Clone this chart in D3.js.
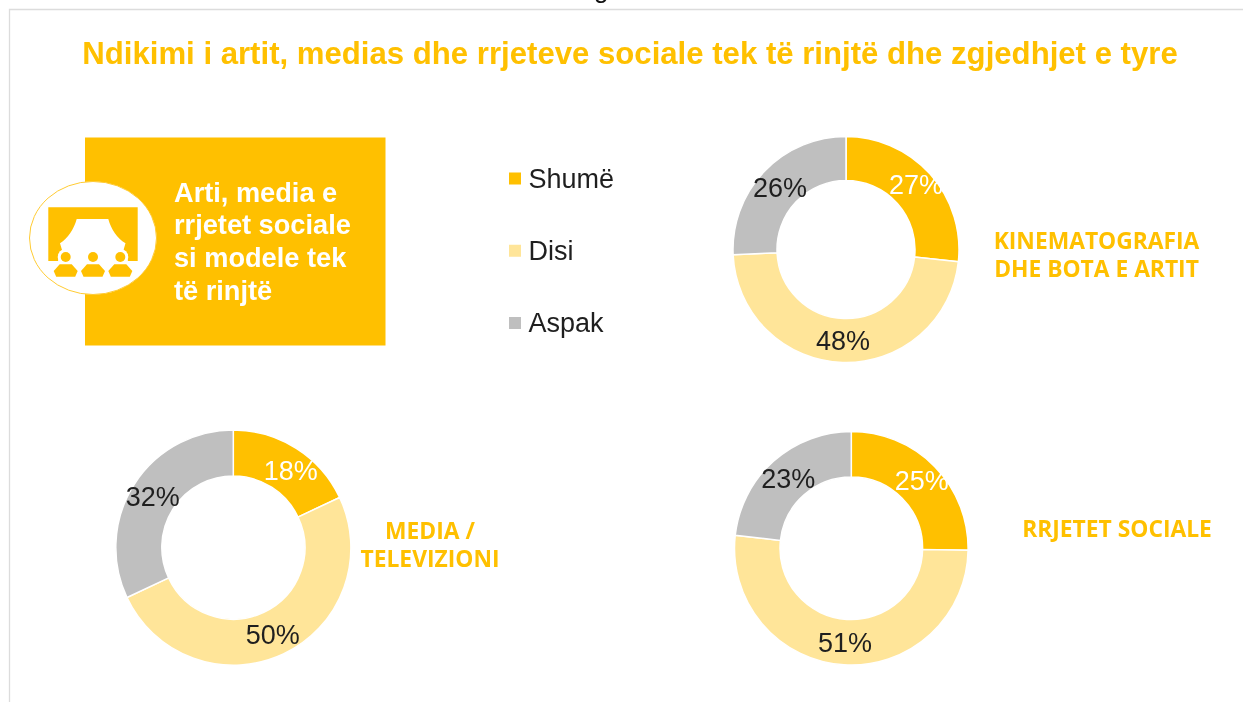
<!DOCTYPE html>
<head>
  <meta charset="utf-8">
  <script src="https://d3js.org/d3.v7.min.js"></script>
  <style>
    body { margin:0;position:fixed;top:0;right:0;bottom:0;left:0;background:#fff; }
    svg { display:block;filter:blur(0.4px); }
    text { font-family:"Liberation Sans",Arial,sans-serif; }
    .side { font-family:"Open Sans",sans-serif;font-weight:700;font-size:22.8px;fill:#ffc000; }
  </style>
</head>

<body>
  <script>
    var width = 1243,
        height = 702;

    // data
    var categories = ["Shumë", "Disi", "Aspak"];
    var kinemaValues = [27, 48, 26];
    var mediaValues = [18, 50, 32];
    var rrjeteValues = [25, 51, 23];
    var titleText = "Ndikimi i artit, medias dhe rrjeteve sociale tek të rinjtë dhe zgjedhjet e tyre";
    var boxLines = ["Arti, media e", "rrjetet sociale", "si modele tek", "të rinjtë"];

    var color = d3.scaleOrdinal()
      .domain(categories)
      .range(["#ffc000", "#ffe599", "#bfbfbf"]);

    // placement of the three rings, and of the labels relative to the ring centre
    var rings = [
      { values: kinemaValues, cx: 846, cy: 249.5, r: 113, r0: 69,
        labels: [[70, -65], [-3, 91], [-66, -62.5]],
        name: ["KINEMATOGRAFIA", "DHE BOTA E ARTIT"], nameX: 1096.5, nameY: 249 },
      { values: mediaValues, cx: 233.3, cy: 547.5, r: 117.5, r0: 71.5,
        labels: [[57.5, -77], [39.5, 86.5], [-80.5, -51]],
        name: ["MEDIA /", "TELEVIZIONI"], nameX: 430, nameY: 539 },
      { values: rrjeteValues, cx: 851.3, cy: 548.3, r: 116.8, r0: 71.3,
        labels: [[70.5, -68], [-6.3, 93.5], [-63, -70.5]],
        name: ["RRJETET SOCIALE"], nameX: 1117, nameY: 536.5 }
    ];

    var svg = d3.select("body")
      .append("svg")
      .attr("width", width)
      .attr("height", height);

    // page frame and the cut off caption above it
    svg.append("path")
      .attr("d", "M9.5,702V9.5H1243")
      .attr("fill", "none")
      .attr("stroke", "#dcdcdc")
      .attr("stroke-width", 1.3);

    svg.append("text")
      .attr("x", 594)
      .attr("y", -2.5)
      .attr("font-size", 26)
      .attr("fill", "#111")
      .text("g");

    svg.append("text")
      .attr("x", 630)
      .attr("y", 64)
      .attr("text-anchor", "middle")
      .attr("font-size", 31.15)
      .attr("font-weight", 700)
      .attr("fill", "#ffc000")
      .text(titleText);

    // left panel
    svg.append("rect")
      .attr("x", 85)
      .attr("y", 137.5)
      .attr("width", 300.5)
      .attr("height", 208)
      .attr("fill", "#ffc000");

    svg.append("ellipse")
      .attr("cx", 93)
      .attr("cy", 238)
      .attr("rx", 63.5)
      .attr("ry", 56.5)
      .attr("fill", "#fff")
      .attr("stroke", "#ffcb33")
      .attr("stroke-width", 1);

    var icon = svg.append("g")
      .attr("fill", "#ffc000");

    // stage and curtains
    icon.append("path")
      .attr("d", "M48.3,207.3H137.7V261H128L123.5,250L125.5,243.3C117,238 111,229 108.3,219H76.7C74,229 68,238 60,243.3L62,250L58,261H48.3Z");

    // the three spectators
    [65.7, 93, 120.3].forEach(function(x) {
      icon.append("circle")
        .attr("cx", x)
        .attr("cy", 257)
        .attr("r", 8)
        .attr("fill", "#fff");
      icon.append("circle")
        .attr("cx", x)
        .attr("cy", 257)
        .attr("r", 5);
      icon.append("path")
        .attr("d", "M" + (x - 6) + ",264.3H" + (x + 6) + "L" + (x + 12) + ",271L" + (x + 9.5) + ",276.7H" + (x - 9.5) + "L" + (x - 12) + ",271Z");
    });

    svg.append("g")
      .selectAll("text")
      .data(boxLines)
      .enter()
      .append("text")
      .attr("x", 174)
      .attr("y", function(d, i) { return 201.7 + i * 32.7; })
      .attr("font-size", 27.2)
      .attr("font-weight", 700)
      .attr("fill", "#fff")
      .text(function(d) { return d; });

    // legend
    var legendY = d3.scalePoint()
      .domain(categories)
      .range([178.5, 323]);

    var legend = svg.append("g")
      .selectAll("g")
      .data(categories)
      .enter()
      .append("g")
      .attr("transform", function(d) { return "translate(0," + legendY(d) + ")"; });

    legend.append("rect")
      .attr("x", 509)
      .attr("y", -6)
      .attr("width", 12)
      .attr("height", 12)
      .attr("fill", function(d) { return color(d); });

    legend.append("text")
      .attr("x", 528.5)
      .attr("y", 9)
      .attr("font-size", 27)
      .attr("fill", "#1f1f1f")
      .text(function(d) { return d; });

    // the rings
    var pie = d3.pie().sort(null);

    rings.forEach(function(ring) {
      var arc = d3.arc().innerRadius(ring.r0).outerRadius(ring.r);
      var g = svg.append("g")
        .attr("transform", "translate(" + ring.cx + "," + ring.cy + ")");

      g.selectAll("path")
        .data(pie(ring.values))
        .enter()
        .append("path")
        .attr("d", arc)
        .attr("fill", function(d, i) { return color(categories[i]); })
        .attr("stroke", "#fff")
        .attr("stroke-width", 1.5);

      g.selectAll("text")
        .data(ring.values)
        .enter()
        .append("text")
        .attr("x", function(d, i) { return ring.labels[i][0]; })
        .attr("y", function(d, i) { return ring.labels[i][1]; })
        .attr("dy", "0.36em")
        .attr("text-anchor", "middle")
        .attr("font-size", 27)
        .attr("fill", function(d, i) { return i == 0 ? "#fff" : "#1f1f1f"; })
        .text(function(d) { return d + "%"; });

      // one text with a tspan per line
      svg.append("text")
        .attr("class", "side")
        .attr("text-anchor", "middle")
        .selectAll("tspan")
        .data(ring.name)
        .enter()
        .append("tspan")
        .attr("x", ring.nameX)
        .attr("y", function(d, i) { return ring.nameY + i * 27.7; })
        .text(function(d) { return d; });
    });
  </script>
</body>
